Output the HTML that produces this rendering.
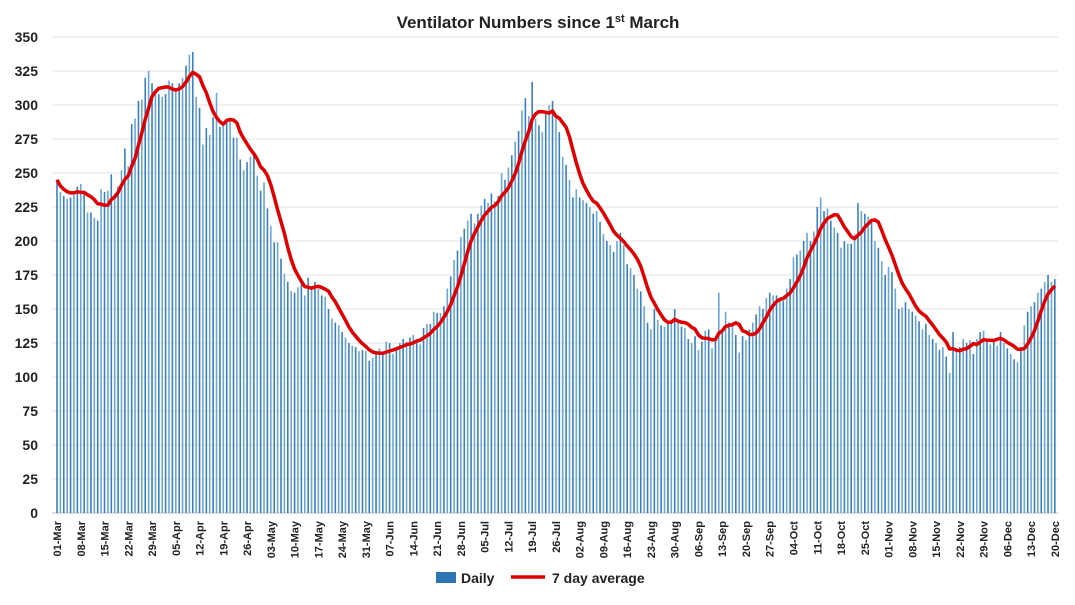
<!DOCTYPE html>
<html><head><meta charset="utf-8"><style>
body{margin:0;background:#fff;font-family:"Liberation Sans",sans-serif}
svg text{font-family:"Liberation Sans",sans-serif;font-weight:bold;fill:#222}
</style></head><body>
<svg id="c" width="1075" height="600">
<text x="538" y="28" text-anchor="middle" font-size="17">Ventilator Numbers since 1<tspan font-size="11" dy="-6">st</tspan><tspan dy="6"> March</tspan></text>
<g id="grid"></g><g id="bars"></g><g id="line"></g><g id="xl"></g>
<g>
<rect x="436" y="572" width="20" height="11" fill="#2e75b6"/>
<text x="461" y="583" font-size="14">Daily</text>
<line x1="511" y1="577" x2="545" y2="577" stroke="#e00000" stroke-width="3.5"/>
<text x="552" y="583" font-size="14">7 day average</text>
</g>
</svg>
<script>
const yTicks=[0,25,50,75,100,125,150,175,200,225,250,275,300,325,350];
const xTickLabels=["01-Mar","08-Mar","15-Mar","22-Mar","29-Mar","05-Apr","12-Apr","19-Apr","26-Apr","03-May","10-May","17-May","24-May","31-May","07-Jun","14-Jun","21-Jun","28-Jun","05-Jul","12-Jul","19-Jul","26-Jul","02-Aug","09-Aug","16-Aug","23-Aug","30-Aug","06-Sep","13-Sep","20-Sep","27-Sep","04-Oct","11-Oct","18-Oct","25-Oct","01-Nov","08-Nov","15-Nov","22-Nov","29-Nov","06-Dec","13-Dec","20-Dec"];
const daily=[245,236,233,231,232,236,240,242,236,221,221,217,215,238,236,237,249,235,240,252,268,
255,286,290,303,304,320,325,316,310,308,306,308,318,316,311,316,320,329,337,339,306,
298,271,283,278,291,309,284,285,290,288,276,276,260,252,258,262,265,248,237,243,224,
211,199,199,187,176,170,163,162,166,168,160,173,165,170,165,160,159,150,143,140,138,
133,129,125,123,122,119,120,119,112,114,118,121,118,126,125,117,120,125,128,126,129,
131,127,124,136,139,139,148,147,147,152,165,174,186,193,203,209,215,220,213,220,226,
231,228,235,229,233,250,245,254,263,273,281,296,305,292,317,290,285,280,294,300,303,
290,280,262,256,245,232,238,232,230,228,225,220,222,214,205,200,197,192,200,206,197,
183,180,175,165,163,152,140,135,150,142,138,137,140,140,150,140,137,136,128,125,130,
120,126,134,135,121,127,162,133,148,140,138,131,118,130,127,135,140,146,152,150,158,
162,160,160,158,156,165,172,188,190,193,200,206,200,207,225,232,222,224,215,210,206,
195,200,198,198,205,228,222,220,218,215,200,195,185,175,181,177,165,150,151,155,150,
148,145,141,135,139,131,128,125,120,122,115,103,133,120,122,128,125,127,117,128,133,
134,126,124,126,123,133,125,121,117,113,111,122,138,148,152,155,162,165,170,175,170,172];
const NS="http://www.w3.org/2000/svg";
const X0=57,DX=3.394,Y0=513,YS=476/350;
const xs=i=>X0+DX*i, ys=v=>Y0-v*YS;
function mk(t,a,p){const e=document.createElementNS(NS,t);for(const k in a)e.setAttribute(k,a[k]);p.appendChild(e);return e;}
const grid=document.getElementById('grid');
yTicks.forEach(v=>{
 const l=mk('line',{x1:52,x2:1058,y1:ys(v),y2:ys(v),stroke:v===0?'#bfbfbf':'#e3e3e3','stroke-width':1},grid);
 
 
 const t=mk('text',{x:38,y:ys(v)+5,'text-anchor':'end','font-size':14},grid);t.textContent=v;
 
 
});
const bars=document.getElementById('bars');
daily.forEach((v,i)=>{
 const r=mk('rect',{x:xs(i)-0.8,y:ys(v),width:1.6,height:v*YS,fill:i%2?'#6aa6da':'#3a80c0'},bars);
 
 
});
const avg=daily.map((v,i)=>{const s=daily.slice(Math.max(0,i-6),i+1);return s.reduce((a,b)=>a+b,0)/s.length;});
const p=mk('path',{d:avg.map((v,i)=>(i?'L':'M')+xs(i).toFixed(1)+','+ys(v).toFixed(1)).join(''),fill:'none',stroke:'#e00000','stroke-width':3.5,'stroke-linejoin':'round'},document.getElementById('line'));


const xl=document.getElementById('xl');
xTickLabels.forEach((s,k)=>{
 const x=xs(k*7)+4;
 const t=mk('text',{x:x,y:521,'text-anchor':'end','font-size':11,transform:`rotate(-90 ${x} 521)`},xl);t.textContent=s;
 
 
});
</script>
</body></html>
